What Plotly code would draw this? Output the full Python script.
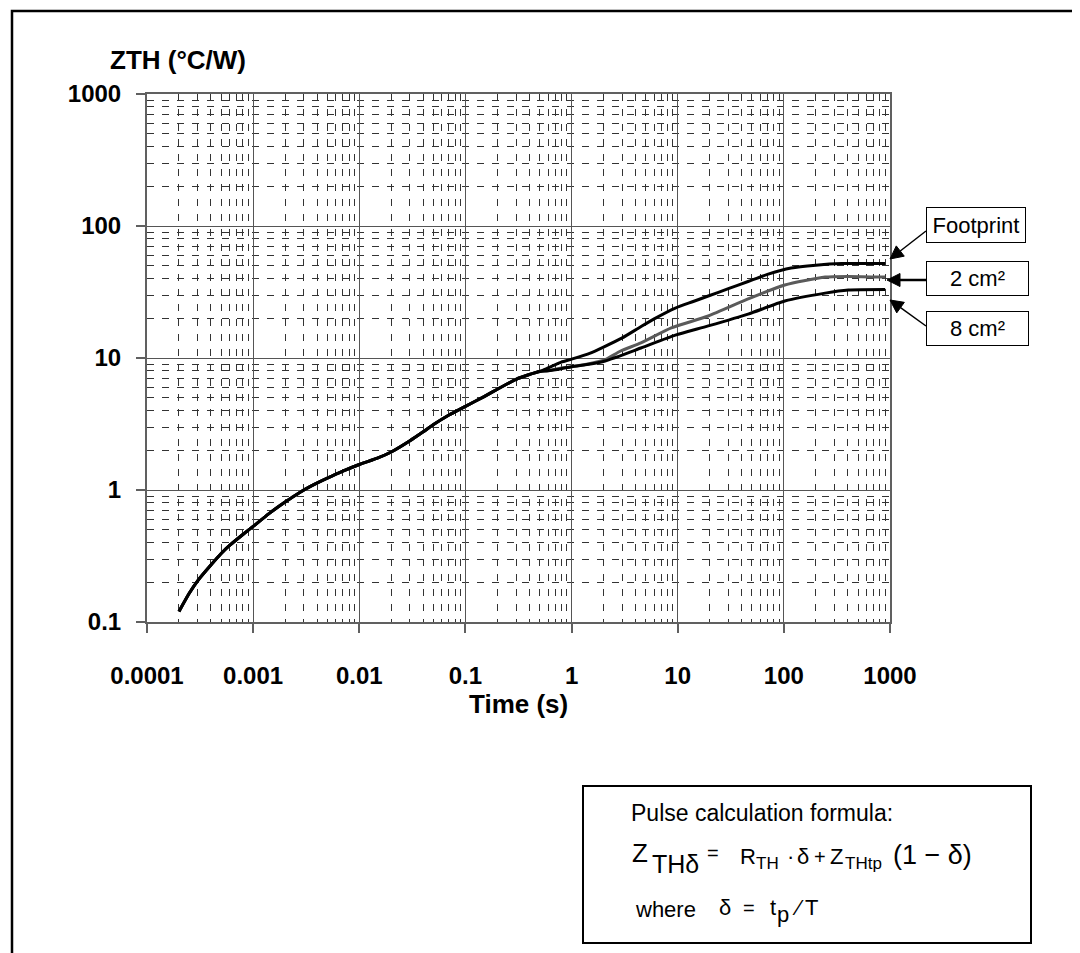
import math
import plotly.graph_objects as go

# ---------------- data ----------------
series_names = ["2 cm²", "8 cm²", "Footprint"]

time_common = [0.0002, 0.00025, 0.0003, 0.0004, 0.0005, 0.0006, 0.0008, 0.001,
               0.0014, 0.002, 0.0027, 0.0035, 0.005, 0.007, 0.01, 0.015, 0.02,
               0.03, 0.04, 0.05, 0.07, 0.1, 0.15, 0.2, 0.3, 0.4, 0.5]
zth_common = [0.12, 0.165, 0.205, 0.27, 0.33, 0.38, 0.46, 0.53,
              0.66, 0.81, 0.95, 1.07, 1.23, 1.39, 1.56, 1.75, 1.94,
              2.36, 2.76, 3.13, 3.7, 4.3, 5.1, 5.8, 6.9, 7.5, 7.9]

time_footprint = [0.6, 0.8, 1, 1.5, 2, 3, 4.3, 6, 9.5, 14, 19.4, 30, 46, 70, 117, 200, 350, 500, 900]
zth_footprint = [8.4, 9.3, 9.8, 10.9, 12.1, 14.2, 16.9, 19.8, 23.9, 26.8, 29.5, 33.5, 38, 43, 48, 50.5, 52, 52, 52]

time_2cm = [0.6, 0.8, 1, 1.5, 2.07, 2.9, 4.5, 8.7, 19.4, 46, 102, 245, 400, 900]
zth_2cm = [8.0, 8.4, 8.6, 9.1, 9.7, 11.3, 13, 16.9, 20.8, 28, 35.7, 41, 41.5, 41]

time_8cm = [0.6, 0.8, 1, 1.5, 2.07, 4.5, 9.5, 19.4, 46, 102, 245, 405, 900]
zth_8cm = [8.0, 8.3, 8.6, 9.0, 9.5, 11.9, 14.9, 17.5, 21.5, 27, 31, 32.7, 33]

x_tickvals = [0.0001, 0.001, 0.01, 0.1, 1, 10, 100, 1000]
x_ticktext = ["0.0001", "0.001", "0.01", "0.1", "1", "10", "100", "1000"]
y_tickvals = [0.1, 1, 10, 100, 1000]
y_ticktext = ["0.1", "1", "10", "100", "1000"]

x_minor = [m * 10 ** e for e in range(-4, 3) for m in range(2, 10)]
y_minor = [m * 10 ** e for e in range(-1, 3) for m in range(2, 10)]

# ---------------- layout helpers ----------------
W_FIG, H_FIG = 1080, 953
L, T, R, B = 139, 86, 198, 339
PW, PH = W_FIG - L - R, H_FIG - T - B


def px(x):
    return (x - L) / PW


def py(y):
    return (T + PH - y) / PH


FONT = "Liberation Sans, Arial, Helvetica, sans-serif"

fig = go.Figure()

series = [
    (time_common + time_2cm, zth_common + zth_2cm, "#5a5a5a"),
    (time_common + time_8cm, zth_common + zth_8cm, "#000000"),
    (time_common + time_footprint, zth_common + zth_footprint, "#000000"),
]
for name, (xs, ys, col) in zip(series_names, series):
    fig.add_trace(go.Scatter(x=xs, y=ys, mode="lines", name=name,
                             line=dict(color=col, width=3, shape="spline", smoothing=0.6),
                             showlegend=False))

axis_common = dict(
    type="log",
    showline=True, linecolor="#606060", linewidth=2, mirror=True,
    ticks="outside", ticklen=9, tickcolor="#606060", tickwidth=1.5,
    showgrid=True, gridcolor="#555555", gridwidth=1,
    zeroline=False,
    tickfont=dict(family=FONT, size=24, color="black", weight="bold"),
)

fig.update_xaxes(
    **axis_common, range=[-4, 3], tickmode="array",
    tickvals=x_tickvals, ticktext=x_ticktext, ticklabelstandoff=22,
    minor=dict(tickmode="array", tickvals=x_minor, showgrid=True,
               gridcolor="#333333", gridwidth=1, griddash="7px,8px", ticks=""),
)
fig.update_yaxes(
    **axis_common, range=[-1, 3], tickmode="array",
    tickvals=y_tickvals, ticktext=y_ticktext, ticklabelstandoff=10,
    minor=dict(tickmode="array", tickvals=y_minor, showgrid=True,
               gridcolor="#333333", gridwidth=1, griddash="7px,8px", ticks=""),
)

annotations = []


def text_ann(text, x, y, size, bold=False, xanchor="left"):
    annotations.append(dict(
        text=text, x=px(x), y=py(y), xref="paper", yref="paper",
        xanchor=xanchor, yanchor="middle", showarrow=False,
        borderpad=0, borderwidth=0,
        font=dict(family=FONT, size=size, color="black",
                  weight="bold" if bold else "normal")))


# axis titles
text_ann("ZTH (°C/W)", 170, 52, 26, bold=True, xanchor="center")
text_ann("Time (s)", 510, 696, 26, bold=True, xanchor="center")

# labelled boxes
for label, cx, cy, w, h in [("Footprint", 968, 217, 98, 34),
                            ("2 cm²", 969.5, 270.5, 101, 33),
                            ("8 cm²", 969.5, 320.5, 101, 33)]:
    annotations.append(dict(
        text=label, x=px(cx), y=py(cy), xref="paper", yref="paper",
        xanchor="center", yanchor="middle", showarrow=False,
        width=w, height=h, bgcolor="white", bordercolor="black",
        borderwidth=1, borderpad=0, align="center", valign="middle",
        font=dict(family=FONT, size=22, color="black")))

# formula box contents
text_ann("Pulse calculation formula:", 623, 805, 23)
text_ann("Z", 624, 845, 26)
text_ann("THδ", 644, 856, 25)
text_ann("=", 699, 845, 20)
text_ann("R", 732, 848, 22)
text_ann("TH", 748, 855, 17)
text_ann("·", 779, 848, 22)
text_ann("δ", 789, 848, 22)
text_ann("+", 806, 849, 20)
text_ann("Z", 822, 848, 22)
text_ann("THtp", 837, 855, 17)
text_ann("(1 − δ)", 885, 847, 27)
text_ann("where", 627, 901, 22)
text_ann("δ", 711, 900, 22)
text_ann("=", 735, 900, 20)
text_ann("t", 762, 900, 22)
text_ann("p", 769, 906, 22)
text_ann("⁄", 784, 900, 22)
text_ann("T", 797, 900, 22)

shapes = [
    # outer frame
    dict(type="rect", xref="paper", yref="paper",
         x0=px(4), x1=px(1076), y0=py(3), y1=py(990),
         line=dict(color="black", width=2.5), fillcolor="rgba(0,0,0,0)", layer="above"),
    # formula box
    dict(type="rect", xref="paper", yref="paper",
         x0=px(575), x1=px(1023), y0=py(778), y1=py(935),
         line=dict(color="black", width=2), fillcolor="rgba(0,0,0,0)", layer="above"),
]

# arrows from label boxes to curve ends: (tip, tail, line width)
for (tx, ty), (sx, sy), lw in [((882, 251), (918, 223), 1.5),
                               ((879, 272), (918, 272), 2.5),
                               ((882, 292), (918, 318), 1.5)]:
    dx, dy = tx - sx, ty - sy
    d = math.hypot(dx, dy)
    ux, uy = dx / d, dy / d
    nx, ny = -uy, ux
    head_len, head_half = 13, 6.5
    bx, by = tx - ux * head_len, ty - uy * head_len
    shapes.append(dict(type="line", xref="paper", yref="paper",
                       x0=px(sx), y0=py(sy), x1=px(bx), y1=py(by),
                       line=dict(color="black", width=lw), layer="above"))
    p1 = (px(tx), py(ty))
    p2 = (px(bx + nx * head_half), py(by + ny * head_half))
    p3 = (px(bx - nx * head_half), py(by - ny * head_half))
    shapes.append(dict(type="path", xref="paper", yref="paper",
                       path=f"M {p1[0]},{p1[1]} L {p2[0]},{p2[1]} L {p3[0]},{p3[1]} Z",
                       fillcolor="black", line=dict(color="black", width=1),
                       layer="above"))

fig.update_layout(
    width=W_FIG, height=H_FIG,
    margin=dict(l=L, r=R, t=T, b=B, autoexpand=False),
    paper_bgcolor="white", plot_bgcolor="white",
    annotations=annotations, shapes=shapes,
    showlegend=False,
)

fig.write_html("out.html")
